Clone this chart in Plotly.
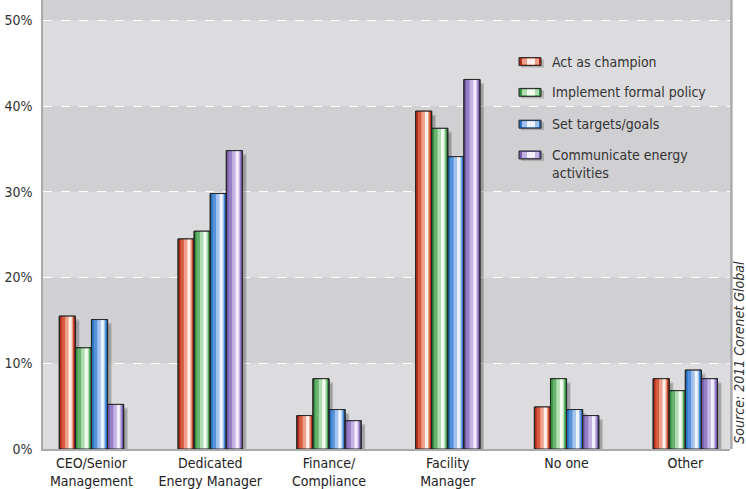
import plotly.graph_objects as go

categories = ["CEO/Senior<br>Management", "Dedicated<br>Energy Manager", "Finance/<br>Compliance",
              "Facility<br>Manager", "No one", "Other"]
series_names = ["Act as champion", "Implement formal policy", "Set targets/goals",
                "Communicate energy<br>activities"]
act_as_champion = [15.5, 24.5, 3.9, 39.4, 4.9, 8.2]
implement_policy = [11.8, 25.4, 8.2, 37.4, 8.2, 6.8]
set_targets = [15.1, 29.8, 4.6, 34.1, 4.6, 9.2]
communicate = [5.2, 34.8, 3.3, 43.1, 3.9, 8.2]
y_ticks = [0, 10, 20, 30, 40, 50]
y_tick_labels = ["0%", "10%", "20%", "30%", "40%", "50%"]

series_values = [act_as_champion, implement_policy, set_targets, communicate]
# gradient palettes: edge, mid, light, highlight
palettes = [
    ["#b02a18", "#d65a3e", "#eea08a", "#fff1ea"],
    ["#35923f", "#66b36e", "#b0dcb2", "#f3fbf1"],
    ["#2670c0", "#5592da", "#a3c3ee", "#eef4fd"],
    ["#775cae", "#9580c6", "#c4b4e4", "#f3eefb"],
]
FONT = "DejaVu Sans Condensed, Liberation Sans Narrow, Arial Narrow, sans-serif"

W = 0.1355
xs = list(range(len(categories)))
fig = go.Figure()

# shadows
for si, vals in enumerate(series_values):
    off = (si - 2) * W
    fig.add_trace(go.Bar(x=xs, y=[max(v - 0.4, 0) for v in vals], width=W * 0.9, offset=off + W * 0.35,
                         marker=dict(color="rgba(60,60,60,0.22)", line=dict(width=0)),
                         showlegend=False, hoverinfo="skip"))
    fig.add_trace(go.Bar(x=xs, y=[max(v - 0.6, 0) for v in vals], width=W * 0.6, offset=off + W * 0.6,
                         marker=dict(color="rgba(60,60,60,0.18)", line=dict(width=0)),
                         showlegend=False, hoverinfo="skip"))

for si, vals in enumerate(series_values):
    off = (si - 2) * W
    pal = palettes[si]
    fig.add_trace(go.Bar(x=xs, y=vals, width=W, offset=off, name=series_names[si],
                         marker=dict(color=pal[0], line=dict(color="#262626", width=1)),
                         showlegend=False))
    layers = [(0.14, 0.90, pal[1]), (0.36, 0.85, pal[2]), (0.58, 0.77, pal[3])]
    for a, b, c in layers:
        fig.add_trace(go.Bar(x=xs, y=vals, width=W * (b - a), offset=off + W * a,
                             marker=dict(color=c, line=dict(width=0)),
                             showlegend=False, hoverinfo="skip"))
    fig.add_trace(go.Bar(x=xs, y=vals, width=W, offset=off,
                         marker=dict(color="rgba(0,0,0,0)", line=dict(color="#262626", width=1)),
                         showlegend=False, hoverinfo="skip"))

shapes = []
band_light = "#dcdcde"
band_dark = "#d0d0d2"
for lo, hi, col in [(0, 10, band_light), (10, 20, band_dark), (20, 30, band_light),
                    (30, 40, band_dark), (40, 50, band_light), (50, 60, band_dark)]:
    shapes.append(dict(type="rect", xref="paper", yref="y", x0=0, x1=1, y0=lo, y1=hi,
                       fillcolor=col, line=dict(width=0), layer="below"))
shapes.append(dict(type="line", xref="paper", yref="paper", x0=1.002, x1=1.002, y0=0, y1=1,
                   line=dict(color="#a9a9ab", width=2.5)))

PW, PH = 687.0, 452.0
def px(xp):
    return (xp - 43) / PW
def py(yp):
    return (PH - yp) / PH

annotations = []
row_y = [62, 93, 125, 156]
for si, name in enumerate(series_names):
    pal = palettes[si]
    yc = row_y[si]
    x0, x1 = 519, 541
    shapes.append(dict(type="rect", xref="paper", yref="paper", x0=px(x0 + 2), x1=px(x1 + 3),
                       y0=py(yc + 6), y1=py(yc - 2), fillcolor="rgba(60,60,60,0.25)", line=dict(width=0)))
    shapes.append(dict(type="rect", xref="paper", yref="paper", x0=px(x0), x1=px(x1),
                       y0=py(yc + 4), y1=py(yc - 4), fillcolor=pal[0], line=dict(color="#262626", width=1)))
    shapes.append(dict(type="rect", xref="paper", yref="paper", x0=px(x0 + 3), x1=px(x1 - 2),
                       y0=py(yc + 3), y1=py(yc - 3), fillcolor=pal[2], line=dict(width=0)))
    shapes.append(dict(type="rect", xref="paper", yref="paper", x0=px(x0 + 8), x1=px(x1 - 6),
                       y0=py(yc + 3), y1=py(yc - 3), fillcolor=pal[3], line=dict(width=0)))
    annotations.append(dict(xref="paper", yref="paper", x=px(550), y=py(yc - 10), text=name,
                            showarrow=False, xanchor="left", yanchor="top", align="left",
                            font=dict(family=FONT, size=14, color="#333333")))

annotations.append(dict(xref="paper", yref="paper", x=px(739), y=py(355),
                        text="<i>Source: 2011 Corenet Global</i>", textangle=-90, showarrow=False,
                        xanchor="center", yanchor="middle",
                        font=dict(family=FONT, size=14, color="#333333")))

fig.update_layout(
    width=746, height=489,
    margin=dict(l=43, r=16, t=0, b=37),
    barmode="overlay",
    paper_bgcolor="white",
    plot_bgcolor=band_light,
    shapes=shapes,
    annotations=annotations,
    showlegend=False,
    xaxis=dict(range=[-0.408, 5.376], tickmode="array", tickvals=xs, ticktext=categories,
               showgrid=False, zeroline=False, showline=True, linecolor="#a9a9ab", linewidth=1.5,
               ticks="", tickfont=dict(family=FONT, size=14, color="#222222")),
    yaxis=dict(range=[0, 52.37], tickmode="array", tickvals=y_ticks, ticktext=y_tick_labels,
               showgrid=True, gridcolor="white", griddash="dash", gridwidth=1, zeroline=False,
               showline=True, linecolor="#a9a9ab", linewidth=1.5, ticks="",
               tickfont=dict(family=FONT, size=14, color="#333333"), ticklabelstandoff=6),
)
fig.write_html("out.html")
